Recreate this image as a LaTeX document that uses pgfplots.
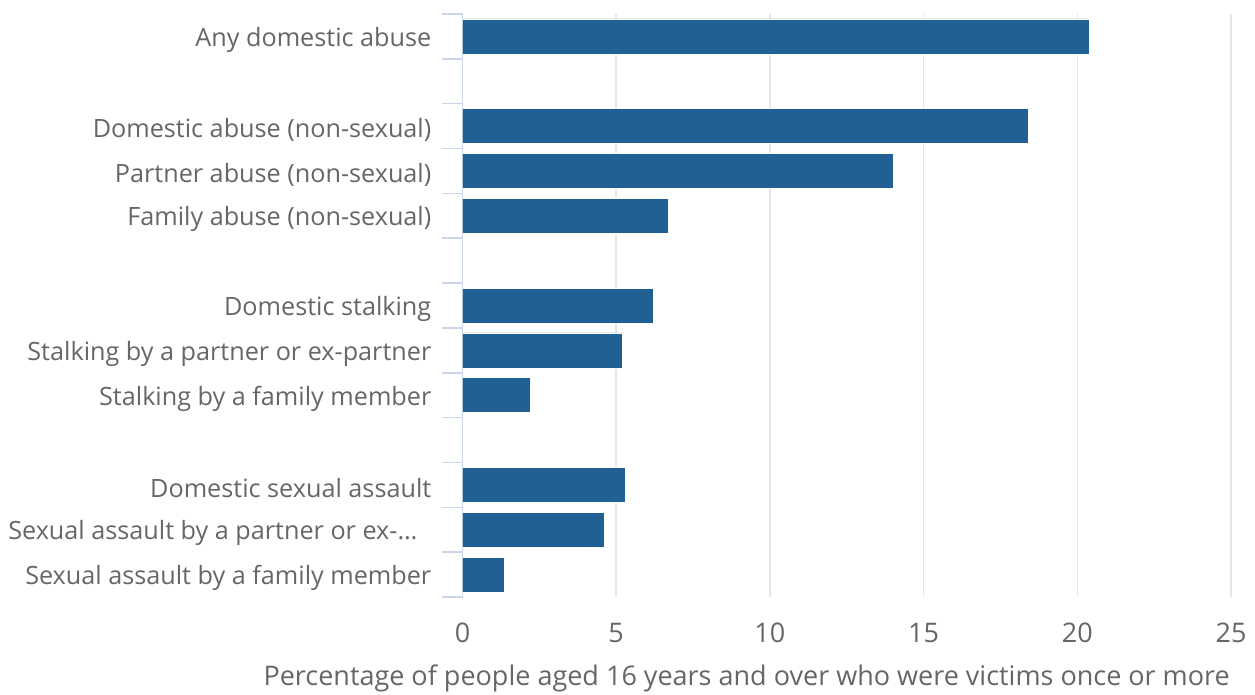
\documentclass[border=0pt]{standalone}
\usepackage{pgfplots}
\pgfplotsset{compat=1.18}
\usepackage{fontspec}
\setmainfont{Open Sans}
\definecolor{barblue}{HTML}{206095}
\definecolor{axisc}{HTML}{CCD6EB}
\definecolor{gridc}{HTML}{E6E6E6}
\definecolor{txt}{HTML}{666666}
\pgfplotstableread{
y val
0 20.4
2 18.4
3 14.0
4 6.7
6 6.2
7 5.2
8 2.2
10 5.3
11 4.6
12 1.35
}\datatable
\begin{document}
\begin{tikzpicture}
\useasboundingbox (0,0) rectangle (1255pt,695pt);
\begin{axis}[
  at={(462.5pt,98pt)}, anchor=south west,
  scale only axis, width=768.5pt, height=583pt,
  xbar, bar width=35pt,
  xmin=0, xmax=25, ymin=-0.5, ymax=12.5, y dir=reverse,
  xtick={0,5,...,25},
  ytick={0,2,3,4,6,7,8,10,11,12},
  yticklabels={Any domestic abuse,Domestic abuse (non-sexual),Partner abuse (non-sexual),Family abuse (non-sexual),Domestic stalking,Stalking by a partner or ex-partner,Stalking by a family member,Domestic sexual assault,{Sexual assault by a partner or ex-…\hspace*{14pt}},Sexual assault by a family member},
  minor ytick={-0.5,0.5,...,12.5},
  axis y line*=left, axis x line*=bottom,
  x axis line style={draw=none},
  y axis line style={-, axisc, line width=1.5pt},
  xmajorgrids, major grid style={gridc, line width=1.5pt},
  major tick length=0pt, minor tick length=20pt, tick align=outside,
  minor tick style={axisc, line width=1.5pt},
  major tick style={draw=none},
  yticklabel style={txt, font=\fontsize{25.2}{30}\selectfont, anchor=east, inner sep=0pt, xshift=-31pt, yshift=-3.5pt},
  xticklabel style={txt, font=\fontsize{27}{32}\selectfont, anchor=north, inner sep=0pt, yshift=-26pt},
  /pgf/number format/assume math mode=true,
]
\addplot[fill=barblue, draw=white, line width=0.5pt] table[x=val, y=y] {\datatable};
\end{axis}
\node[anchor=base east, txt, font=\fontsize{27}{32}\selectfont, inner sep=0pt] at (1230pt,9pt) {Percentage of people aged 16 years and over who were victims once or more};
\end{tikzpicture}
\end{document}
